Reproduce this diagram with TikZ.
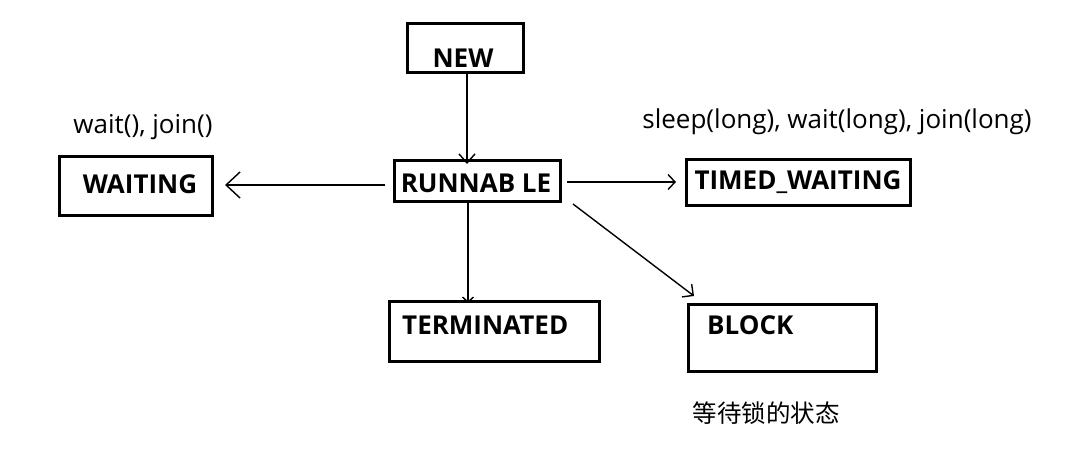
\documentclass[tikz,border=0pt]{standalone}
\usepackage{fontspec}
\setmainfont{Open Sans}
\newfontfamily\cjk{Noto Sans CJK SC}
\usetikzlibrary{arrows.meta}
\tikzset{
  box/.style={draw=black, line width=3pt, rectangle, inner sep=0pt},
  title/.style={font=\fontsize{26}{28}\selectfont\bfseries, inner sep=0pt},
  note/.style={font=\fontsize{26}{28}\selectfont, inner sep=0pt},
  arr/.style={line width=1.4pt, -{Straight Barb[length=9pt,width=16pt,line width=1.4pt]}},
}
\begin{document}
\begin{tikzpicture}[x=1pt,y=-1pt]
\useasboundingbox (0,0) rectangle (1087,457);
% boxes
\node[box, minimum width=116pt, minimum height=49pt] (new)  at (465.5,48) {};
\node[box, minimum width=166pt, minimum height=41pt] (run)  at (477.5,181) {};
\node[box, minimum width=153pt, minimum height=59pt] (wait) at (136,186) {};
\node[box, minimum width=224pt, minimum height=46pt] (timed) at (798.5,182.5) {};
\node[box, minimum width=210pt, minimum height=60pt] (term) at (494.5,331.5) {};
\node[box, minimum width=188pt, minimum height=67pt] (block) at (782.5,338) {};
% titles
\node[title] (newt)   at (463,58) {NEW};
\node[title] (runt)   at (476,183) {RUNNAB LE};
\node[title] (waitt)  at (140,184) {WAITING};
\node[title] (timedt) at (798,182) {TIMED\_WAITING};
\node[title, anchor=west] (termt)  at (402,325) {TERMINATED};
\node[title, anchor=west] (blockt) at (707,325) {BLOCK};
% notes
\node[note] (waitn)  at (143,127) {wait(), join()};
\node[note] (timedn) at (837,122) {sleep(long), wait(long), join(long)};
\node[note, font=\fontsize{24.5}{28}\selectfont\cjk] (blockn) at (766,413) {等待锁的状态};
% connectors
\draw[arr] ([xshift=1.5pt]new.south) -- ([xshift=1.5pt,yshift=-5pt]new.south |- run.north);
\draw[arr, -{Straight Barb[length=14pt,width=26pt,line width=1.4pt]}] ([xshift=-8pt,yshift=-4pt]run.west) -- ([xshift=11pt,yshift=1pt]wait.east);
\draw[arr, -{Straight Barb[length=7pt,width=15pt,line width=1.4pt]}] ([xshift=5pt,yshift=-1pt]run.east) -- ([xshift=-9pt,yshift=0.5pt]timed.west);
\draw[arr, -{Straight Barb[length=5pt,width=11pt,line width=1.4pt]}] ([xshift=-9.5pt]run.south) -- ([xshift=-9.5pt,yshift=-3pt]run.south |- term.north);
\draw[arr, -{Straight Barb[length=8pt,width=16pt,line width=1.4pt]}] ([xshift=11pt,yshift=-1pt]run.south east) -- ([xshift=7pt,yshift=7pt]block.north west);
\end{tikzpicture}
\end{document}
